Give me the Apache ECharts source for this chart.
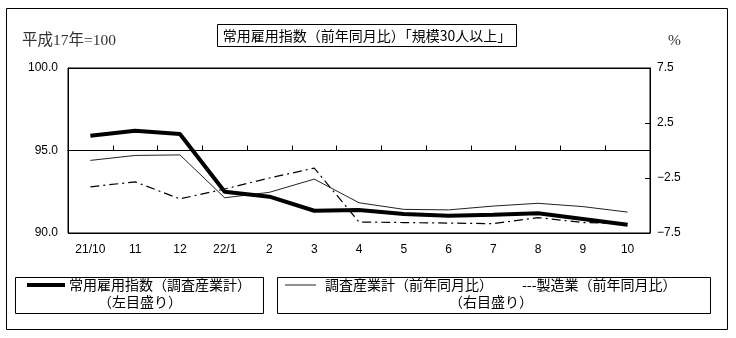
<!DOCTYPE html>
<html>
<head>
<meta charset="utf-8">
<script src="https://cdn.jsdelivr.net/npm/echarts@6/dist/echarts.min.js"></script>
<style>
  html, body { margin: 0; padding: 0; background: #fff; }
  #chart { width: 736px; height: 338px; }
</style>
</head>
<body>
<div id="chart"></div>
<script>
// Months from October 2021 to October 2022
const categories = ['21/10', '11', '12', '22/1', '2', '3', '4', '5', '6', '7', '8', '9', '10'];
// Regular employment index, all surveyed industries (2005 = 100, left scale)
const employmentIndex = [95.9, 96.2, 96.0, 92.5, 92.2, 91.35, 91.4, 91.15, 91.05, 91.1, 91.2, 90.85, 90.5];
// Year-on-year change, all surveyed industries (%, right scale)
const yoyAllIndustries = [-0.9, -0.45, -0.4, -4.3, -3.8, -2.6, -4.75, -5.35, -5.4, -5.05, -4.8, -5.1, -5.6];
// Year-on-year change, manufacturing (%, right scale)
const yoyManufacturing = [-3.3, -2.85, -4.4, -3.5, -2.5, -1.6, -6.5, -6.55, -6.6, -6.65, -6.1, -6.55, -6.65];
// Axis ranges
const leftAxis = { min: 90, max: 100, interval: 5 };
const rightAxis = { min: -7.5, max: 7.5, interval: 5 };

const JP = '"Noto Sans CJK JP", "Noto Sans", sans-serif';
const SERIF = '"Liberation Serif", "DejaVu Serif", "Noto Sans CJK JP", serif';
const NUM = '"Liberation Sans", Arial, sans-serif';

const chart = echarts.init(document.getElementById('chart'), null, { renderer: 'canvas' });

chart.setOption({
  animation: false,
  backgroundColor: '#fff',
  grid: {
    left: 68, right: 86, top: 68, bottom: 105,
    show: true, borderColor: '#000', borderWidth: 1
  },
  xAxis: {
    type: 'category',
    data: categories,
    boundaryGap: true,
    axisLine: { show: true, lineStyle: { color: '#000', width: 1 } },
    axisTick: { show: true, inside: true, length: 5, lineStyle: { color: '#000' } },
    axisLabel: { color: '#000', fontFamily: NUM, fontSize: 12, margin: 11 },
    splitLine: { show: false }
  },
  yAxis: [
    {
      type: 'value',
      min: leftAxis.min, max: leftAxis.max, interval: leftAxis.interval,
      axisLine: { show: true, lineStyle: { color: '#000' } },
      axisTick: { show: false },
      axisLabel: {
        color: '#000', fontFamily: NUM, fontSize: 12, margin: 10,
        formatter: v => v.toFixed(1)
      },
      splitLine: { show: true, lineStyle: { color: '#000', width: 1 } }
    },
    {
      type: 'value',
      min: rightAxis.min, max: rightAxis.max, interval: rightAxis.interval,
      position: 'right',
      axisLine: { show: true, lineStyle: { color: '#000' } },
      axisTick: { show: true, inside: true, length: 5, lineStyle: { color: '#000' } },
      axisLabel: {
        color: '#000', fontFamily: NUM, fontSize: 12, margin: 7,
        formatter: v => v.toFixed(1).replace('-', '\u2212')
      },
      splitLine: { show: false }
    }
  ],
  series: [
    {
      name: '製造業（前年同月比）',
      type: 'line',
      yAxisIndex: 1,
      data: yoyManufacturing,
      symbol: 'none',
      lineStyle: { color: '#000', width: 1.2, type: [9, 4, 2, 4] },
      z: 2
    },
    {
      name: '調査産業計（前年同月比）',
      type: 'line',
      yAxisIndex: 1,
      data: yoyAllIndustries,
      symbol: 'none',
      lineStyle: { color: '#222', width: 1 },
      z: 3
    },
    {
      name: '常用雇用指数（調査産業計）',
      type: 'line',
      yAxisIndex: 0,
      data: employmentIndex,
      symbol: 'none',
      lineStyle: { color: '#000', width: 4 },
      z: 4
    }
  ],
  graphic: [
    // outer frame
    { type: 'rect', shape: { x: 6.5, y: 8.5, width: 721, height: 321 },
      style: { fill: null, stroke: '#000', lineWidth: 1 }, silent: true },
    // title box
    { type: 'rect', shape: { x: 217.5, y: 24.5, width: 299, height: 22 },
      style: { fill: '#fff', stroke: '#000', lineWidth: 1 } },
    { type: 'text', x: 367, y: 36,
      style: { text: '常用雇用指数（前年同月比）「規模30人以上」', font: '14px ' + JP,
               fill: '#000', align: 'center', verticalAlign: 'middle' } },
    // axis captions
    { type: 'text', x: 22, y: 41,
      style: { text: '平成17年=100', font: '15.5px ' + SERIF, fill: '#333',
               align: 'left', verticalAlign: 'middle' } },
    { type: 'text', x: 668, y: 41,
      style: { text: '%', font: '15.5px ' + SERIF, fill: '#333',
               align: 'left', verticalAlign: 'middle' } },
    // legend box: left scale
    { type: 'rect', shape: { x: 15.5, y: 277.5, width: 248, height: 36 },
      style: { fill: '#fff', stroke: '#000', lineWidth: 1 } },
    { type: 'line', shape: { x1: 27, y1: 285, x2: 65, y2: 285 },
      style: { stroke: '#000', lineWidth: 4 } },
    { type: 'text', x: 69, y: 285,
      style: { text: '常用雇用指数（調査産業計）', font: '14px ' + JP, fill: '#000',
               align: 'left', verticalAlign: 'middle' } },
    { type: 'text', x: 140, y: 302,
      style: { text: '（左目盛り）', font: '14px ' + JP, fill: '#000',
               align: 'center', verticalAlign: 'middle' } },
    // legend box: right scale
    { type: 'rect', shape: { x: 277.5, y: 277.5, width: 433, height: 36 },
      style: { fill: '#fff', stroke: '#000', lineWidth: 1 } },
    { type: 'line', shape: { x1: 285, y1: 285, x2: 316, y2: 285 },
      style: { stroke: '#222', lineWidth: 1 } },
    { type: 'text', x: 325, y: 285,
      style: { text: '調査産業計（前年同月比）', font: '14px ' + JP, fill: '#000',
               align: 'left', verticalAlign: 'middle' } },
    { type: 'text', x: 522, y: 285,
      style: { text: '---製造業（前年同月比）', font: '14px ' + JP, fill: '#000',
               align: 'left', verticalAlign: 'middle' } },
    { type: 'text', x: 491, y: 302,
      style: { text: '（右目盛り）', font: '14px ' + JP, fill: '#000',
               align: 'center', verticalAlign: 'middle' } }
  ]
});
</script>
</body>
</html>
